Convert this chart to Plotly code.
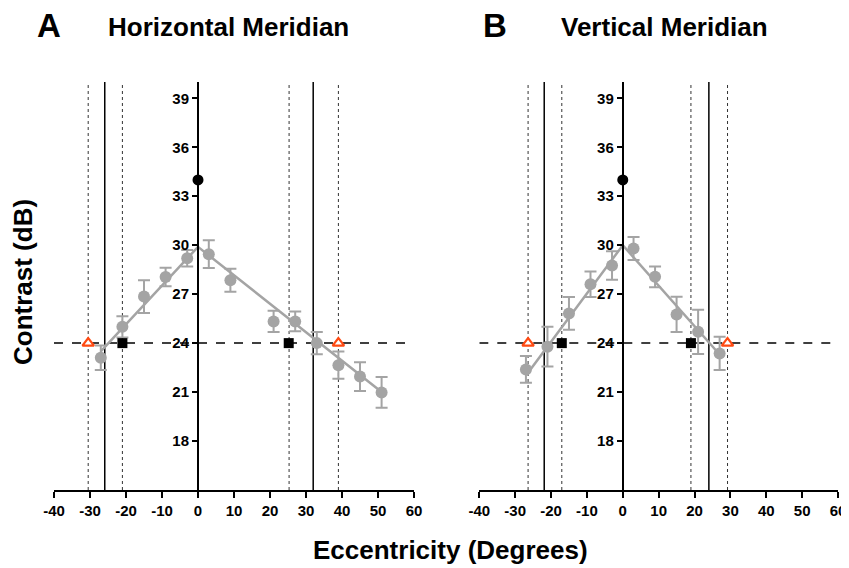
import plotly.graph_objects as go

# ---------------- data ----------------
# Panel A: Horizontal meridian
h_ecc = [-27, -21, -15, -9, -3, 3, 9, 21, 27, 33, 39, 45, 51]
h_contrast = [23.1, 25.0, 26.85, 28.05, 29.2, 29.45, 27.85, 25.33, 25.33, 24.0, 22.65, 21.95, 20.98]
h_err = [0.75, 0.65, 1.0, 0.57, 0.5, 0.85, 0.7, 0.65, 0.6, 0.68, 0.83, 0.88, 0.94]
h_fit_x = [-27, 0, 51]
h_fit_y = [23.5, 29.9, 21.0]
h_solid = [-25.9, 32.0]
h_dotted = [-30.5, -21.0, 25.3, 39.0]
h_square_x = [-21.0, 25.2]
h_tri_x = [-30.5, 39.0]

# Panel B: Vertical meridian
v_ecc = [-27, -21, -15, -9, -3, 3, 9, 15, 21, 27]
v_contrast = [22.39, 23.78, 25.82, 27.61, 28.76, 29.8, 28.06, 25.76, 24.69, 23.37]
v_err = [0.82, 1.22, 1.0, 0.78, 0.87, 0.7, 0.64, 1.08, 1.35, 1.02]
v_fit_x = [-26, 0, 27]
v_fit_y = [22.3, 30.0, 23.3]
v_solid = [-21.9, 24.0]
v_dotted = [-26.4, -17.0, 19.0, 29.2]
v_square_x = [-17.0, 19.0]
v_tri_x = [-26.4, 29.2]

peak_x = [0]
peak_y = [34]
criterion = 24
x_ticks = [-40, -30, -20, -10, 0, 10, 20, 30, 40, 50, 60]
y_ticks = [18, 21, 24, 27, 30, 33, 36, 39]
x_range = [-40, 60]
y_range = [15, 40]

# ---------------- figure ----------------
OFF = 8                     # page body margin
W, H = 849 - OFF, 568 - OFF
TOP, BOTTOM = 82 - OFF, 490 - OFF
FONT = "Liberation Sans, Arial, Helvetica, sans-serif"
GRAY = "#a4a4a4"
ORANGE = "#ff4a12"

fig = go.Figure()

panels = [
    ("x", "y", h_ecc, h_contrast, h_err, h_fit_x, h_fit_y, h_solid, h_dotted, h_square_x, h_tri_x),
    ("x2", "y2", v_ecc, v_contrast, v_err, v_fit_x, v_fit_y, v_solid, v_dotted, v_square_x, v_tri_x),
]

shapes = []
for xa, ya, ex, cy, er, fx, fy, solid, dotted, sqx, trx in panels:
    for xv in solid:
        shapes.append(dict(type="line", xref=xa, yref=ya, x0=xv, x1=xv, y0=y_range[0], y1=y_range[1],
                           line=dict(color="black", width=1.5), layer="below"))
    for xv in dotted:
        shapes.append(dict(type="line", xref=xa, yref=ya, x0=xv, x1=xv, y0=y_range[0], y1=y_range[1],
                           line=dict(color="#333333", width=1, dash="dot"), layer="below"))
    shapes.append(dict(type="line", xref=xa, yref=ya, x0=x_range[0], x1=x_range[1], y0=criterion, y1=criterion,
                       line=dict(color="black", width=1.5, dash="dash"), layer="below"))

    fig.add_trace(go.Scatter(x=fx, y=fy, mode="lines", line=dict(color=GRAY, width=2.5),
                             xaxis=xa, yaxis=ya, showlegend=False, hoverinfo="skip"))
    fig.add_trace(go.Scatter(x=ex, y=cy, mode="markers",
                             marker=dict(color=GRAY, size=12, symbol="circle"),
                             error_y=dict(type="data", array=er, color=GRAY, thickness=2, width=6),
                             xaxis=xa, yaxis=ya, showlegend=False))
    fig.add_trace(go.Scatter(x=sqx, y=[criterion] * len(sqx), mode="markers",
                             marker=dict(color="black", size=10, symbol="square"),
                             xaxis=xa, yaxis=ya, showlegend=False))
    fig.add_trace(go.Scatter(x=trx, y=[criterion] * len(trx), mode="markers",
                             marker=dict(color="white", size=10, symbol="triangle-up",
                                         line=dict(color=ORANGE, width=2.2)),
                             xaxis=xa, yaxis=ya, showlegend=False))
    fig.add_trace(go.Scatter(x=peak_x, y=peak_y, mode="markers",
                             marker=dict(color="black", size=11, symbol="circle"),
                             xaxis=xa, yaxis=ya, showlegend=False))

left_dom = [(54 - OFF) / W, (414 - OFF) / W]
right_dom = [(479.3 - OFF) / W, (838 - OFF) / W]


def zero_pos(dom):
    return dom[0] + (0 - x_range[0]) / (x_range[1] - x_range[0]) * (dom[1] - dom[0])


xaxis_common = dict(range=x_range, tickvals=x_ticks, ticktext=[str(t) for t in x_ticks],
                    showline=True, linecolor="black", linewidth=2, ticks="outside", ticklen=6,
                    tickwidth=2, tickcolor="black", showgrid=False, zeroline=False, automargin=False,
                    tickfont=dict(family=FONT, size=15, color="black", weight="bold"))
yaxis_common = dict(range=y_range, tickvals=y_ticks, ticktext=[str(t) for t in y_ticks],
                    showline=True, linecolor="black", linewidth=2, ticks="outside", ticklen=5,
                    tickwidth=2, tickcolor="black", showgrid=False, zeroline=False, automargin=False,
                    tickfont=dict(family=FONT, size=15, color="black", weight="bold"),
                    domain=[0, 1], anchor="free")

fig.update_layout(
    width=W, height=H,
    margin=dict(l=0, r=0, t=TOP, b=H - BOTTOM, autoexpand=False),
    paper_bgcolor="white", plot_bgcolor="rgba(0,0,0,0)",
    xaxis=dict(domain=left_dom, anchor="y", **xaxis_common),
    xaxis2=dict(domain=right_dom, anchor="y2", **xaxis_common),
    yaxis=dict(position=zero_pos(left_dom), **yaxis_common),
    yaxis2=dict(position=zero_pos(right_dom), **yaxis_common),
    shapes=shapes,
    font=dict(family=FONT, color="black"),
)


def paper_ann(text, px, py, size, angle=0):
    px -= OFF
    py -= OFF
    return dict(text=text, x=px / W, y=(BOTTOM - py) / (BOTTOM - TOP), xref="paper", yref="paper",
                xanchor="center", yanchor="middle", showarrow=False, textangle=angle,
                font=dict(family=FONT, size=size, color="black", weight="bold"))


ann = [
    paper_ann("A", 49, 25, 33),
    paper_ann("Horizontal Meridian", 228, 27, 26),
    paper_ann("B", 495, 25, 33),
    paper_ann("Vertical Meridian", 664, 27, 26),
    paper_ann("Contrast (dB)", 23, 282, 26, angle=-90),
    paper_ann("Eccentricity (Degrees)", 450, 550, 26),
]
fig.update_layout(annotations=ann)

fig.write_html("out.html")
